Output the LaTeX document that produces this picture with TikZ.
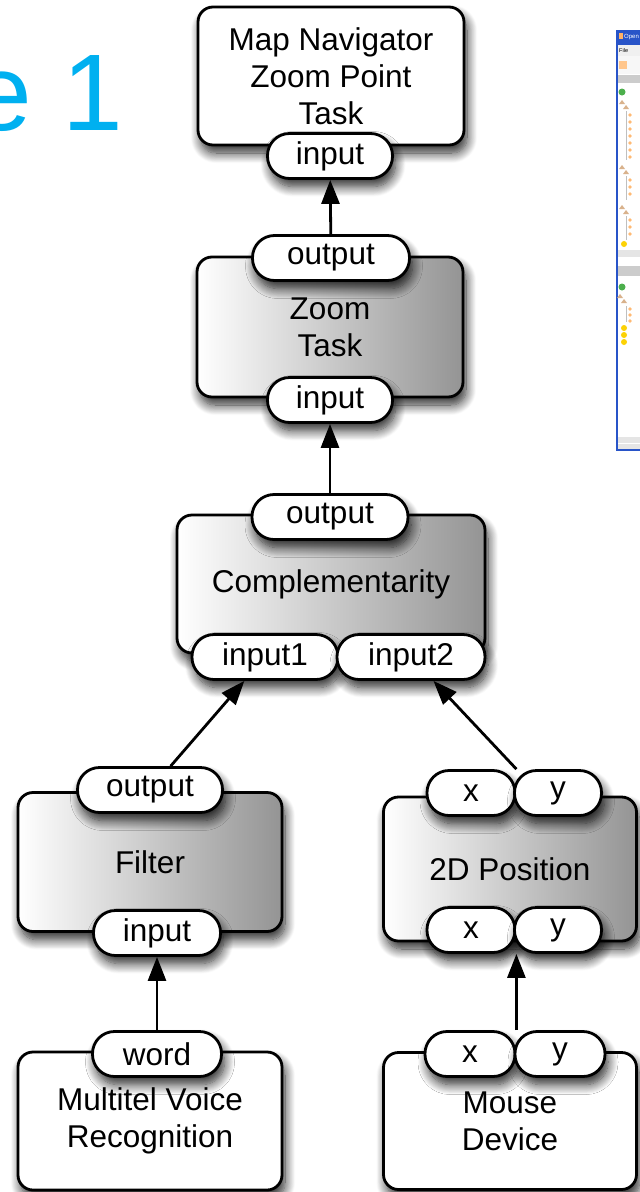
\documentclass[tikz,border=0pt]{standalone}
\usepackage{fontspec}
\setmainfont{Liberation Sans}
\usetikzlibrary{shadows.blur,arrows.meta}

\definecolor{titlecyan}{RGB}{0,176,240}
\definecolor{winblue}{RGB}{40,84,200}
\definecolor{boxgray}{RGB}{148,148,148}

\tikzset{
  softshadow/.style={blur shadow={shadow xshift=3pt, shadow yshift=-8pt,
      shadow blur radius=10pt, shadow blur steps=12, shadow opacity=85}},
  unit/.style={draw, line width=2.8pt, rounded corners=15pt, fill=white,
      softshadow, align=center, inner sep=0pt,
      font=\fontsize{31.5}{37}\selectfont},
  shadedunit/.style={unit, left color=white, right color=boxgray},
  port/.style={draw, line width=2.8pt, rounded corners=22pt, fill=white,
      softshadow, minimum height=45pt, inner sep=0pt,
      font=\fontsize{31.5}{37}\selectfont},
  link/.style={line width=2.8pt, -{Triangle[length=24pt,width=18pt]}},
}

\begin{document}
\begin{tikzpicture}[x=1pt,y=-1pt]
\useasboundingbox (0,0) rectangle (640,1192);

% slide title, partly outside the frame
\node[anchor=base east, text=titlecyan, inner sep=0pt,
      font=\fontsize{109}{120}\selectfont] (title) at (123,130) {e 1};

% small application window at the right border
\begin{scope}
  \clip (600,0) rectangle (640,1192);
  \draw[fill=white, draw=winblue, line width=2pt] (617,31) rectangle (646,450);
  \fill[winblue] (616,30) rectangle (646,45);
  \fill[orange!60] (619,33) rectangle (623,39);
  \node[anchor=west, text=white, inner sep=0pt, font=\fontsize{6}{6}\selectfont]
    (wintitle) at (624,37) {Open};
  \fill[gray!12] (618,45) rectangle (646,56);
  \node[anchor=west, inner sep=0pt, font=\fontsize{5.5}{6}\selectfont]
    (winmenu) at (619,51) {File};
  \fill[gray!6] (618,56) rectangle (646,74);
  \fill[orange!45] (619,61) rectangle (627,69);
  \fill[gray!40] (618,75) rectangle (646,83);
  \fill[green!55!black!70] (622,92) circle (3.5);
  \foreach \yy in {104,169,209} {
    \fill[brown!60] (619,\yy) -- (622,\yy-4) -- (625,\yy) -- cycle;
    \fill[brown!60] (623,\yy+5) -- (626,\yy+1) -- (629,\yy+5) -- cycle;
  }
  \draw[gray!50] (626,111) -- (626,160) (626,176) -- (626,200) (626,216) -- (626,240);
  \foreach \yy in {115,122,129,136,143,150,157,180,187,194,220,227,234}
    \fill[orange!55] (630,\yy) circle (1.8);
  \fill[yellow!70!orange] (624,244) circle (3);
  \fill[gray!20] (618,250) rectangle (646,257);
  \fill[gray!40] (618,266) rectangle (646,276);
  \fill[green!55!black!70] (622,287) circle (3.5);
  \fill[brown!60] (617,298) -- (620,294) -- (623,298) -- cycle;
  \fill[brown!60] (621,303) -- (624,299) -- (627,303) -- cycle;
  \draw[gray!50] (626,306) -- (626,322);
  \foreach \yy in {309,315,321}
    \fill[orange!55] (630,\yy) circle (1.8);
  \foreach \yy in {328,335,342}
    \fill[yellow!70!orange] (624,\yy) circle (3);
  \fill[gray!20] (618,437) rectangle (646,443);
  \fill[gray!20] (618,444) rectangle (646,449);
\end{scope}

% processing units
\node[unit, minimum width=266pt, minimum height=138pt] (top) at (331,76)
  {Map Navigator\\Zoom Point\\Task};
\node[shadedunit, minimum width=266pt, minimum height=140pt] (zoom) at (330,327)
  {Zoom\\Task};
\node[shadedunit, minimum width=308pt, minimum height=138pt] (comp) at (331,584)
  {Complementarity};
\node[shadedunit, minimum width=264pt, minimum height=139pt] (filter) at (150,862)
  {Filter};
\node[shadedunit, minimum width=253pt, minimum height=144pt] (pos) at (510,869)
  {2D Position};
\node[unit, minimum width=264pt, minimum height=138pt] (voice) at (150,1121)
  {Multitel Voice\\Recognition};
\node[unit, minimum width=253pt, minimum height=137pt] (mouse) at (510,1121)
  {Mouse\\Device};

% ports
\node[port, minimum width=125pt] (tin)   at (330,156)  {input};
\node[port, minimum width=157pt] (zout)  at (331,258)  {output};
\node[port, minimum width=125pt] (zin)   at (330,400)  {input};
\node[port, minimum width=156pt] (cout)  at (330,517)  {output};
\node[port, minimum width=146pt] (cin1)  at (265,657)  {input1};
\node[port, minimum width=148pt] (cin2)  at (411,657)  {input2};
\node[port, minimum width=145pt] (fout)  at (150,790)  {output};
\node[port, minimum width=127pt] (fin)   at (157,933)  {input};
\node[port, minimum width=88pt]  (pxt)   at (471,793)  {x};
\node[port, minimum width=87pt]  (pyt)   at (558,793)  {y};
\node[port, minimum width=88pt]  (pxb)   at (471,930)  {x};
\node[port, minimum width=87pt]  (pyb)   at (558,930)  {y};
\node[port, minimum width=129pt] (word)  at (157,1054) {word};
\node[port, minimum width=90pt]  (mx)    at (470,1054) {x};
\node[port, minimum width=90pt]  (my)    at (560,1054) {y};

% connectors
\draw[link] (zout) -- (tin);
\draw[link] (cout) -- (zin);
\draw[link] (fout) -- (cin1);
\draw[link] (pxt.north east) -- (cin2);
\draw[link] (word) -- (fin);
\draw[link] (mx.north east) -- (pxb.south east);
\end{tikzpicture}
\end{document}
